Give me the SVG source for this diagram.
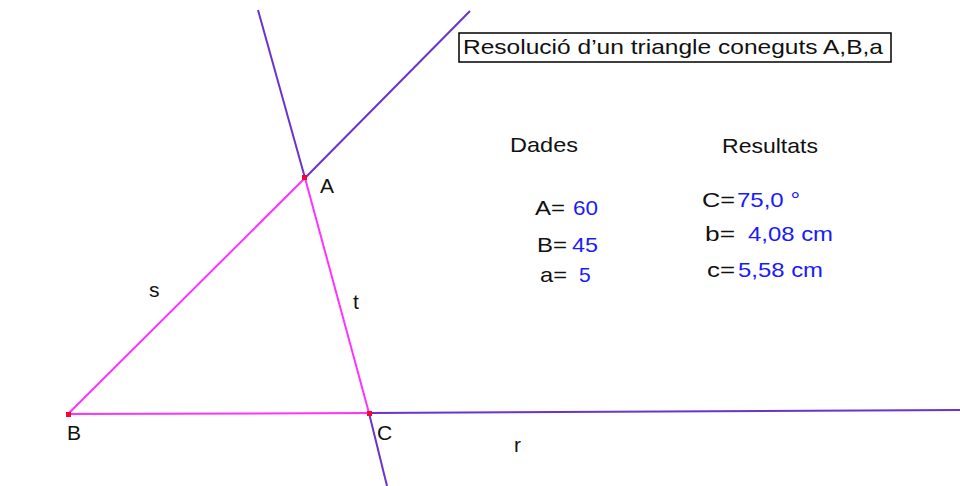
<svg xmlns="http://www.w3.org/2000/svg" width="960" height="486" viewBox="0 0 960 486">
<style>
text{font-family:"Liberation Sans",Arial,sans-serif;font-size:21px;fill:#111}
.v{fill:#1a1aff}
.p{stroke:#6a33cc;stroke-width:2;fill:none}
.m{stroke:#ff33ff;stroke-width:2;fill:none}
.pt{fill:#ff0033}
</style>
<rect width="960" height="486" fill="#fff"/>
<g id="connectors">
<line class="p" x1="258" y1="10" x2="305" y2="178"/>
<line class="p" x1="369" y1="413" x2="387" y2="486"/>
<line class="p" x1="305" y1="178" x2="470" y2="11"/>
<line class="p" x1="369" y1="413" x2="960" y2="410"/>
<line class="m" x1="68" y1="414" x2="305" y2="178"/>
<line class="m" x1="305" y1="178" x2="369" y2="413"/>
<line class="m" x1="68" y1="414" x2="369" y2="413"/>
</g>
<g id="A"><rect class="pt" x="302" y="175" width="5" height="5"/><text x="320" y="193">A</text></g>
<g id="B"><rect class="pt" x="66" y="412" width="5" height="5"/><text x="67" y="440">B</text></g>
<g id="C"><rect class="pt" x="367" y="411" width="5" height="5"/><text x="377" y="440">C</text></g>
<g id="labels">
<text x="149" y="297">s</text>
<text x="353" y="309">t</text>
<text x="514" y="452">r</text>
</g>
<g id="title">
<rect x="459" y="33" width="432" height="29" fill="#fff" stroke="#000" stroke-width="1.5"/>
<text x="463" y="54" textLength="420" lengthAdjust="spacingAndGlyphs">Resolució d’un triangle coneguts A,B,a</text>
</g>
<g id="dades">
<text x="510" y="152" textLength="68" lengthAdjust="spacingAndGlyphs">Dades</text>
<text x="535" y="215" textLength="30" lengthAdjust="spacingAndGlyphs">A=</text>
<text class="v" x="573" y="215" textLength="25" lengthAdjust="spacingAndGlyphs">60</text>
<text x="537" y="252" textLength="30" lengthAdjust="spacingAndGlyphs">B=</text>
<text class="v" x="572" y="252" textLength="26" lengthAdjust="spacingAndGlyphs">45</text>
<text x="540" y="282" textLength="27" lengthAdjust="spacingAndGlyphs">a=</text>
<text class="v" x="579" y="282">5</text>
</g>
<g id="resultats">
<text x="722" y="153" textLength="96" lengthAdjust="spacingAndGlyphs">Resultats</text>
<text x="702" y="207" textLength="33" lengthAdjust="spacingAndGlyphs">C=</text>
<text class="v" x="737" y="207" textLength="63" lengthAdjust="spacingAndGlyphs">75,0 °</text>
<text x="705" y="241" textLength="30" lengthAdjust="spacingAndGlyphs">b=</text>
<text class="v" x="748" y="241" textLength="85" lengthAdjust="spacingAndGlyphs">4,08 cm</text>
<text x="707" y="277" textLength="28" lengthAdjust="spacingAndGlyphs">c=</text>
<text class="v" x="738" y="277" textLength="85" lengthAdjust="spacingAndGlyphs">5,58 cm</text>
</g>
</svg>
